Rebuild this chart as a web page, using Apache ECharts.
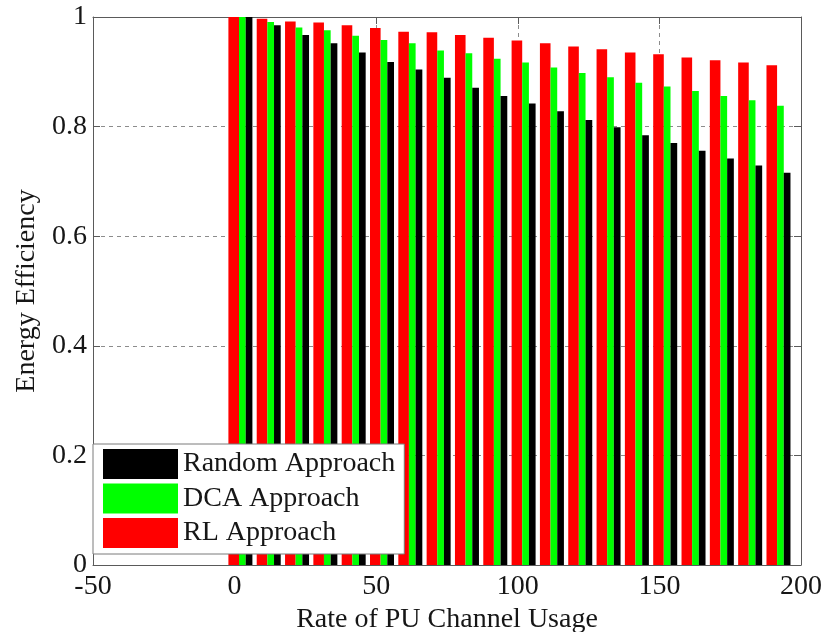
<!DOCTYPE html>
<html>
<head>
<meta charset="utf-8">
<style>
  html, body { margin: 0; padding: 0; background: #ffffff; }
  #chart { width: 826px; height: 632px; }
</style>
<script src="https://cdn.jsdelivr.net/npm/echarts@6/dist/echarts.min.js"></script>
</head>
<body>
<div id="chart"></div>
<script>
// Rate of PU channel usage (group positions on the x axis)
const rates = [0, 10, 20, 30, 40, 50, 60, 70, 80, 90, 100, 110, 120, 130, 140, 150, 160, 170, 180, 190];

// Energy efficiency for each approach
const rlApproach = [1.0, 0.997, 0.992, 0.990, 0.985, 0.980, 0.973, 0.972, 0.967, 0.962,
                    0.957, 0.952, 0.946, 0.941, 0.935, 0.932, 0.926, 0.921, 0.917, 0.912];
const dcaApproach = [1.0, 0.991, 0.981, 0.976, 0.966, 0.958, 0.952, 0.939, 0.934, 0.924,
                     0.917, 0.908, 0.898, 0.890, 0.880, 0.873, 0.865, 0.856, 0.848, 0.838];
const randomApproach = [1.0, 0.985, 0.967, 0.952, 0.935, 0.918, 0.904, 0.889, 0.871, 0.856,
                        0.842, 0.828, 0.812, 0.799, 0.784, 0.770, 0.756, 0.742, 0.729, 0.716];

// Axis ticks
const xTicks = [-50, 0, 50, 100, 150, 200];
const yTicks = [0, 0.2, 0.4, 0.6, 0.8, 1];

const FONT = "'Liberation Serif', 'Times New Roman', serif";
const AXIS_COLOR = '#5a5a5a';
const TEXT_COLOR = '#161616';

const pairs = vals => rates.map((r, i) => [r, vals[i]]);

const xCommon = {
  type: 'value',
  min: xTicks[0],
  max: xTicks[xTicks.length - 1],
  interval: xTicks[1] - xTicks[0]
};
const yCommon = {
  type: 'value',
  min: yTicks[0],
  max: yTicks[yTicks.length - 1],
  interval: yTicks[1] - yTicks[0]
};

const chart = echarts.init(document.getElementById('chart'), null, { renderer: 'canvas' });

chart.setOption({
  backgroundColor: '#ffffff',
  animation: false,
  grid: { left: 93, right: 25, top: 17, bottom: 67, containLabel: false, outerBoundsMode: 'none' },
  legend: {
    data: ['Random Approach', 'DCA Approach', 'RL Approach'],
    orient: 'vertical',
    left: 93,
    top: 444,
    icon: 'rect',
    itemWidth: 75,
    itemHeight: 30,
    itemGap: 4.5,
    padding: [5, 9, 6, 10],
    backgroundColor: '#ffffff',
    borderColor: '#7a7a7a',
    borderWidth: 1,
    selectedMode: false,
    textStyle: { fontFamily: FONT, fontSize: 28, color: TEXT_COLOR, lineHeight: 30 }
  },
  xAxis: [
    Object.assign({}, xCommon, {
      position: 'bottom',
      name: 'Rate of PU Channel Usage',
      nameLocation: 'middle',
      nameGap: 34,
      nameTextStyle: { fontFamily: FONT, fontSize: 28, color: TEXT_COLOR },
      axisLine: { show: true, onZero: false, lineStyle: { color: AXIS_COLOR, width: 1 } },
      axisTick: { show: true, inside: true, length: 7, lineStyle: { color: AXIS_COLOR } },
      axisLabel: { fontFamily: FONT, fontSize: 28, color: TEXT_COLOR, margin: 8 },
      splitLine: { show: true, lineStyle: { color: '#8c8c8c', type: [4, 4], width: 1 } }
    }),
    Object.assign({}, xCommon, {
      position: 'top',
      axisLine: { show: true, onZero: false, lineStyle: { color: AXIS_COLOR, width: 1 } },
      axisTick: { show: true, inside: true, length: 7, lineStyle: { color: AXIS_COLOR } },
      axisLabel: { show: false },
      splitLine: { show: false }
    })
  ],
  yAxis: [
    Object.assign({}, yCommon, {
      position: 'left',
      name: 'Energy Efficiency',
      nameLocation: 'middle',
      nameGap: 52,
      nameTextStyle: { fontFamily: FONT, fontSize: 28, color: TEXT_COLOR },
      axisLine: { show: true, onZero: false, lineStyle: { color: AXIS_COLOR, width: 1 } },
      axisTick: { show: true, inside: true, length: 7, lineStyle: { color: AXIS_COLOR } },
      axisLabel: { fontFamily: FONT, fontSize: 28, color: TEXT_COLOR, margin: 6 },
      splitLine: { show: true, lineStyle: { color: '#8c8c8c', type: [4, 4], width: 1 } }
    }),
    Object.assign({}, yCommon, {
      position: 'right',
      axisLine: { show: true, onZero: false, lineStyle: { color: AXIS_COLOR, width: 1 } },
      axisTick: { show: true, inside: true, length: 7, lineStyle: { color: AXIS_COLOR } },
      axisLabel: { show: false },
      splitLine: { show: false }
    })
  ],
  series: [
    {
      // empty slot on the left of each group so the bars sit just right of each rate
      name: 'slot',
      type: 'bar',
      xAxisIndex: 0, yAxisIndex: 0,
      barWidth: 11.6,
      data: pairs(rlApproach),
      itemStyle: { color: 'rgba(0,0,0,0)' },
      silent: true,
      legendHoverLink: false
    },
    {
      name: 'RL Approach',
      type: 'bar',
      xAxisIndex: 0, yAxisIndex: 0,
      barWidth: 10.6,
      data: pairs(rlApproach),
      itemStyle: { color: '#ff0000' }
    },
    {
      name: 'DCA Approach',
      type: 'bar',
      xAxisIndex: 0, yAxisIndex: 0,
      barWidth: 6.7,
      data: pairs(dcaApproach),
      itemStyle: { color: '#00ff00' }
    },
    {
      name: 'Random Approach',
      type: 'bar',
      xAxisIndex: 0, yAxisIndex: 0,
      barWidth: 6.7,
      barGap: '0%',
      data: pairs(randomApproach),
      itemStyle: { color: '#000000' }
    }
  ]
});
</script>
</body>
</html>
